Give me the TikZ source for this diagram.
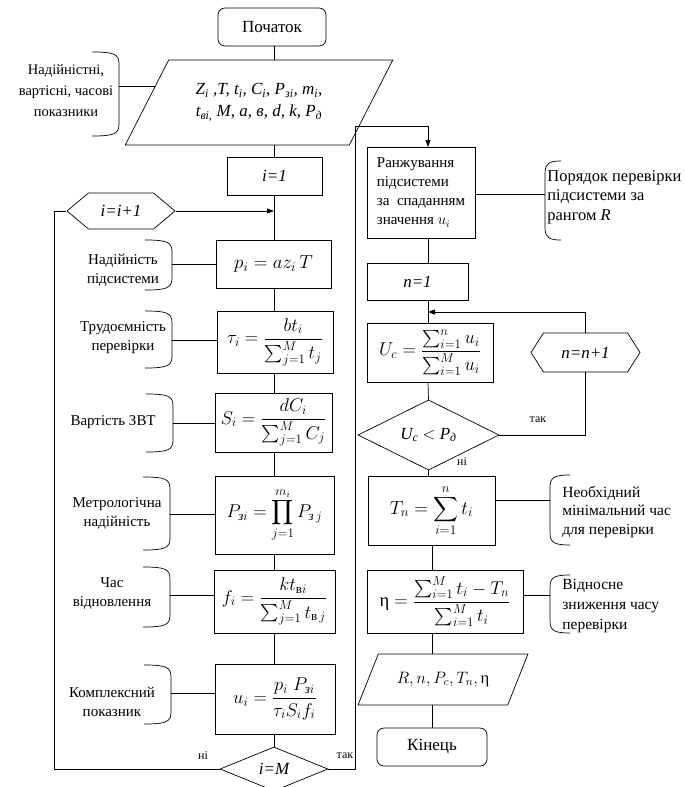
\RequirePackage{fix-cm}
\documentclass[tikz,border=0pt]{standalone}
\usepackage{amsmath}
\usepackage{fontspec}
\setmainfont{Liberation Serif}
\usetikzlibrary{shapes.geometric,shapes.symbols,arrows.meta,calc}
\newcommand{\LBr}[3]{\draw (#1-27,#2) .. controls (#1-5,#2) and (#1,#2+2) .. (#1,#2+12) -- (#1,#3-12) .. controls (#1,#3-2) and (#1-5,#3) .. (#1-27,#3);}
\newcommand{\RBr}[4]{\draw (#1+#4,#2) .. controls (#1+5,#2) and (#1,#2+2) .. (#1,#2+12) -- (#1,#3-12) .. controls (#1,#3-2) and (#1+5,#3) .. (#1+#4,#3);}
\begin{document}
\begin{tikzpicture}[x=1pt,y=-1pt,line width=0.7pt,
  proc/.style={draw,rectangle,inner sep=2pt,font=\fontsize{17}{20}\selectfont},
  mproc/.style={proc,font=\fontsize{18.5}{22}\selectfont},
  term/.style={proc,rounded corners=7pt,font=\fontsize{17}{20}\selectfont},
  io/.style={draw,trapezium,trapezium stretches=true,inner sep=1pt,font=\fontsize{17}{22}\selectfont},
  hex/.style={draw,signal,signal to=east and west,inner sep=1pt,font=\fontsize{17}{20}\selectfont},
  dec/.style={draw,diamond,inner sep=0pt,font=\fontsize{17}{20}\selectfont},
  note/.style={align=center,font=\fontsize{15}{19}\selectfont},
  rnote/.style={align=left,anchor=west,inner sep=0pt,font=\fontsize{15}{19}\selectfont},
  lbl/.style={font=\fontsize{12}{14}\selectfont,inner sep=0pt},
  arr/.style={-{Triangle[length=7pt,width=5pt]}}]
\useasboundingbox (0,0) rectangle (685,787);
% columns
\coordinate (cL) at (274,0);
\coordinate (cR) at (428,0);
\coordinate (cR2) at (432,0);
\coordinate (lx) at (54,0);
\coordinate (rx) at (355,0);
\coordinate (topy) at (0,126);
\coordinate (ly) at (0,312);
% left column
\node[term,minimum width=108pt,minimum height=38pt] (start) at (272,27) {Початок};
\node[io,minimum width=268pt,minimum height=85pt,trapezium left angle=52,trapezium right angle=128,align=center] (in) at (259,102.5)
  {\rule{0pt}{10pt}\itshape Z\textsubscript{i} ,T, t\textsubscript{i}, C\textsubscript{i}, P\textsubscript{зi}, m\textsubscript{i},\\ \itshape t\textsubscript{вi,} M, a, в, d, k, P\textsubscript{д}};
\node[proc,minimum width=95pt,minimum height=38pt] (i1) at (274.5,176) {\itshape i=1};
\node[hex,minimum width=108pt,minimum height=36pt,signal pointer angle=80] (inc) at (121,211) {\itshape i=i+1};
\node[mproc,font=\fontsize{19}{22}\selectfont,minimum width=115pt,minimum height=48pt] (p) at (273.5,264) {$p_i = a z_i\,T$};
\node[mproc,minimum width=116pt,minimum height=62pt] (tau) at (275,342) {$\tau_i = \dfrac{b t_i}{\sum_{j=1}^{M} t_j}$};
\node[mproc,minimum width=117pt,minimum height=59pt] (S) at (273.5,422.5) {$S_i = \dfrac{dC_i}{\sum_{j=1}^{M} C_j}$};
\node[mproc,minimum width=119pt,minimum height=78pt] (Pz) at (274.5,515) {$P_{\textit{з}i} = \displaystyle\prod_{j=1}^{m_i} P_{\textit{з}\,j}$};
\node[mproc,minimum width=121pt,minimum height=63pt] (f) at (274.5,601.5) {$f_i = \dfrac{k t_{\text{в}i}}{\sum_{j=1}^{M} t_{\text{в}\,j}}$};
\node[mproc,minimum width=120pt,minimum height=70pt] (u) at (275,699) {$u_i = \dfrac{p_i\;P_{\textit{з}i}}{\tau_i S_i f_i}$};
\node[dec,minimum width=108pt,minimum height=44pt] (dM) at (274,769) {\itshape i=M};
% left column connectors
\draw (start.south -| cL) -- (in.north -| cL);
\draw (in.south -| cL) -- (i1.north -| cL);
\draw (i1.south -| cL) -- (p.north -| cL);
\draw[arr] (inc.east) -- (inc.east -| cL);
\draw (p.south -| cL) -- (tau.north -| cL);
\draw (tau.south -| cL) -- (S.north -| cL);
\draw (S.south -| cL) -- (Pz.north -| cL);
\draw (Pz.south -| cL) -- (f.north -| cL);
\draw (f.south -| cL) -- (u.north -| cL);
\draw (u.south -| cL) -- (dM.north);
\draw (dM.west) -- (dM.west -| lx) -- (inc.west -| lx) -- (inc.west);
\draw[arr] (dM.east) -- (dM.east -| rx) -- (rx |- topy) -- (cR |- topy) -- (cR |- 0,147);
\node[lbl] (no1) at (203,756) {ні};
\node[lbl] (yes1) at (345,756) {так};
% left notes
\node[note,font=\fontsize{14.5}{21}\selectfont] (t1) at (66,91) {Надійністні,\\вартісні, часові\\показники};
\LBr{119}{52}{136}
\coordinate (b1) at (119,86);
\coordinate (inL) at ($(in.bottom left corner)!0.694!(in.top left corner)$);
\draw (b1) -- (b1 -| inL);
\node[note] (t2) at (123,270) {Надійність\\підсистеми};
\LBr{172}{240}{290}
\coordinate (b2) at (172,264);
\draw (b2) -- (b2 -| p.west);
\node[note] (t3) at (123,338) {Трудоємність\\перевірки};
\LBr{172}{311}{368}
\coordinate (b3) at (172,340);
\draw (b3) -- (b3 -| tau.west);
\node[note] (t4) at (113,422) {Вартість ЗВТ};
\LBr{173}{394}{452}
\coordinate (b4) at (173,423);
\draw (b4) -- (b4 -| S.west);
\node[note] (t5) at (117,513) {Метрологічна\\надійність};
\LBr{170}{477}{550}
\coordinate (b5) at (170,514);
\draw (b5) -- (b5 -| Pz.west);
\node[note] (t6) at (112,594) {Час\\відновлення};
\LBr{170}{567}{627}
\coordinate (b6) at (170,595);
\draw (b6) -- (b6 -| f.west);
\node[note] (t7) at (112,702) {Комплексний\\показник};
\LBr{171}{665}{724}
\coordinate (b7) at (171,693);
\draw (b7) -- (b7 -| u.west);
% right column
\node[proc,minimum width=108pt,minimum height=91pt,align=left,font=\fontsize{15}{19}\selectfont] (rank) at (421,192.5) {Ранжування\\підсистеми\\за~~спаданням\\значення $u_i$};
\node[proc,minimum width=101pt,minimum height=37pt] (n1) at (417.5,281.5) {\itshape n=1};
\node[mproc,minimum width=126pt,minimum height=59pt] (Uc) at (430,352.5) {$U_c = \dfrac{\sum_{i=1}^{n} u_i}{\sum_{i=1}^{M} u_i}$};
\node[hex,minimum width=109pt,minimum height=39pt,signal pointer angle=115] (ninc) at (585.5,352.5) {\itshape n=n+1};
\node[dec,minimum width=141pt,minimum height=56pt] (dU) at (428.5,435) {\itshape U\textsubscript{c} \upshape$<$ \itshape P\textsubscript{д}};
\node[mproc,font=\fontsize{19}{22}\selectfont,minimum width=127pt,minimum height=69pt] (Tn) at (431.5,510.5) {$T_n = \displaystyle\sum_{i=1}^{n} t_i$};
\node[mproc,minimum width=156pt,minimum height=63pt] (eta) at (445,601.5) {$\text{η} = \dfrac{\sum_{i=1}^{M} t_i - T_n}{\sum_{i=1}^{M} t_i}$};
\node[io,minimum width=170pt,minimum height=51pt,trapezium left angle=48.6,trapezium right angle=131.4,font=\fontsize{16.5}{20}\selectfont] (out) at (443,679.5) {$R, n, P_c, T_n, \text{η}$};
\node[term,minimum width=110pt,minimum height=38pt] (end) at (432,747) {Кінець};
% right connectors
\draw (rank.south -| cR) -- (n1.north -| cR);
\draw (n1.south -| cR) -- (Uc.north -| cR);
\draw[arr] (ninc.north) -- (ninc.north |- ly) -- (cR |- ly);
\draw (Uc.south -| cR) -- (dU.north);
\draw (dU.east) -| (ninc.south);
\draw (dU.south) -- (dU.south |- Tn.north);
\draw (Tn.south -| cR2) -- (eta.north -| cR2);
\draw (eta.south -| cR2) -- (out.north -| cR2);
\draw (out.south -| cR2) -- (end.north -| cR2);
\node[lbl] (yes2) at (538,420) {так};
\node[lbl] (no2) at (462,462) {ні};
% right notes
\node[rnote,font=\fontsize{16.5}{19.5}\selectfont] (t8) at (547,197) {Порядок перевірки\\підсистеми за\\рангом \textit{R}};
\RBr{545}{161}{240}{16}
\coordinate (b8) at (545,194);
\draw (rank.east |- b8) -- (b8);
\node[rnote,font=\fontsize{15.5}{18.5}\selectfont] (t9) at (562,512) {Необхідний\\мінімальний час\\для перевірки};
\RBr{550}{475}{545}{20}
\coordinate (b9) at (550,500);
\draw (Tn.east |- b9) -- (b9);
\node[rnote,font=\fontsize{15.5}{20}\selectfont] (t10) at (562,606) {Відносне\\зниження часу\\перевірки};
\RBr{550}{575}{633}{20}
\coordinate (b10) at (550,595);
\draw (eta.east |- b10) -- (b10);
\end{tikzpicture}
\end{document}
